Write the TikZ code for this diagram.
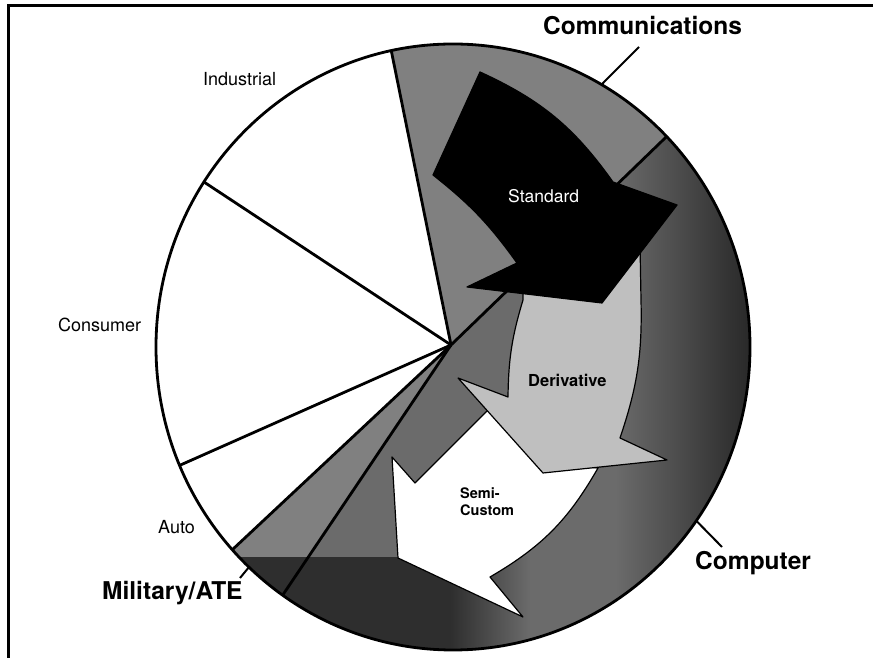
\documentclass[tikz,border=0pt]{standalone}
\usepackage{fontspec}
\setmainfont{TeX Gyre Heros}
\usepackage{tikz}
\usetikzlibrary{positioning,calc}
\tikzstyle{segment} = [font=\fontsize{18}{20}\selectfont, anchor=base west, inner sep=0pt]
\tikzstyle{market} = [font=\bfseries\fontsize{24.5}{28}\selectfont, anchor=base west, inner sep=0pt]
\tikzstyle{divider} = [line width=2.8pt]
\tikzstyle{leader} = [line width=2pt]
\tikzstyle{flow} = [draw=black, line width=1.2pt, line join=round]
\tikzstyle{commfill} = [fill=black!50]
\tikzstyle{compfill} = [fill=black!58]
\tikzstyle{milfill} = [fill=black!50]

\begin{document}
\begin{tikzpicture}[x=1pt,y=1pt]
 \useasboundingbox (0,0) rectangle (873,658);
 \draw[line width=3pt] (8,0) -- (8,652) -- (873,652);
% pie
 \coordinate (hub) at (451,313);
 \coordinate (ctr) at (453,311);
 \coordinate (bIndComm)  at ($(ctr)+(102:297pt and 303pt)$);
 \coordinate (bIndCons)  at ($(ctr)+(147:297pt and 303pt)$);
 \coordinate (bConsAuto) at ($(ctr)+(203:297pt and 303pt)$);
 \coordinate (bAutoMil)  at ($(ctr)+(222:297pt and 303pt)$);
 \coordinate (bMilComp)  at ($(ctr)+(235:297pt and 303pt)$);
 \coordinate (bCommComp) at ($(ctr)+(44:297pt and 303pt)$);
 \fill[commfill] (hub) -- (bCommComp)
       arc[start angle=44, end angle=102, x radius=297pt, y radius=303pt] -- cycle;
 \fill[compfill] (hub) -- (bMilComp)
       arc[start angle=-125, end angle=44, x radius=297pt, y radius=303pt] -- cycle;
 \fill[milfill] (hub) -- (bAutoMil)
       arc[start angle=222, end angle=235, x radius=297pt, y radius=303pt] -- cycle;
 \begin{scope}
  \clip (hub) -- (bAutoMil)
       arc[start angle=222, end angle=404, x radius=297pt, y radius=303pt] -- cycle;
  \fill[black!82] (200,0) rectangle (450,101);
  \shade[left color=black!82, right color=black!58] (450,0) rectangle (530,101);
  \shade[left color=black!58, right color=black!86] (615,0) rectangle (760,560);
 \end{scope}
 \foreach \b in {bIndComm,bIndCons,bConsAuto,bAutoMil,bMilComp,bCommComp}
   \draw[divider] (hub) -- (\b);
 \draw[line width=2.8pt] (ctr) ellipse [x radius=297pt, y radius=303pt];
% arrows
 \filldraw[flow, fill=white] (495,255) -- (415,175) -- (392,201) -- (398,100)
       -- (523,41) -- (490,81) to[bend right=15] (598,190) -- (545,195) -- cycle;
 \filldraw[flow, fill=black!25] (523,380) -- (523,358) to[bend right=8] (508,261)
       -- (458,280) -- (543,185) -- (667,198) -- (620,220)
       to[bend right=10] (641,358) -- (640,415) -- cycle;
 \filldraw[flow, fill=black] (480,586) to[bend left=15] (613,476) -- (677,453)
       -- (602,355) -- (467,371) -- (517,395) to[bend right=8] (433,483) -- cycle;
% labels
 \node[segment] (industrial) at (203,572) {Industrial};
 \node[segment] (consumer) at (58,326) {Consumer};
 \node[segment] (auto) at (158,124) {Auto};
 \node[market] (comm) at (543,623) {Communications};
 \node[market] (computer) at (695,88) {Computer};
 \node[market] (military) at (102,58) {Military/ATE};
 \node[segment, text=white, font=\fontsize{17.5}{20}\selectfont] (standard) at (508,455) {Standard};
 \node[segment, font=\bfseries\fontsize{16.5}{20}\selectfont] (derivative) at (528,271) {Derivative};
 \node[segment, anchor=north west, align=left, font=\bfseries\fontsize{14.5}{16.5}\selectfont]
      (semicustom) at (460,170) {Semi-\\Custom};
% leaders
 \coordinate (commTick) at ($(ctr)+(60:297pt and 303pt)$);
 \coordinate (commEnd) at (639,611);
 \coordinate (compTick) at ($(ctr)+(-35:297pt and 303pt)$);
 \coordinate (compEnd) at (722,111);
 \coordinate (milTick) at ($(ctr)+(226.6:297pt and 303pt)$);
 \coordinate (milEnd) at (240,80);
 \draw[leader] (commTick) -- (commEnd);
 \draw[leader] (compTick) -- (compEnd);
 \draw[leader] (milTick) -- (milEnd);
\end{tikzpicture}
\end{document}
